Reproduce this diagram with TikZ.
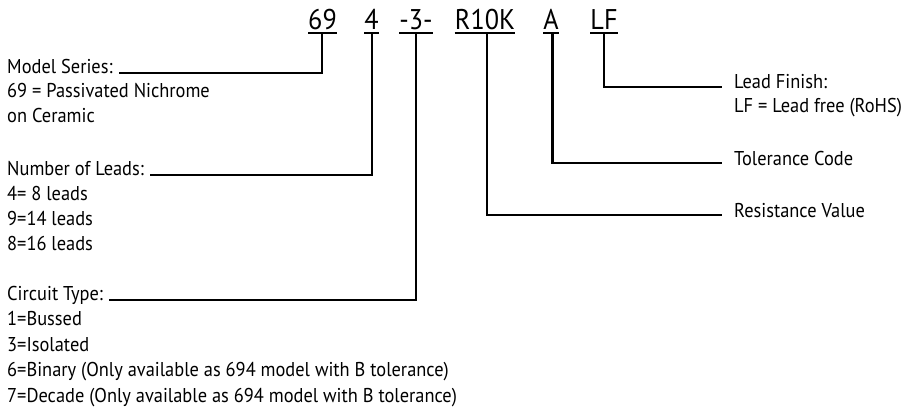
\documentclass[tikz,border=0pt]{standalone}
\usepackage{fontspec}
\setmainfont{PT Sans}[FakeStretch=0.92]
\begin{document}
\begin{tikzpicture}[x=1pt,y=-1pt,
  code/.style={inner sep=0pt,anchor=base,font=\fontsize{28.5}{30}\selectfont},
  lbl/.style={inner sep=0pt,anchor=base west,font=\fontsize{20}{22}\selectfont},
  ul/.style={line width=2.2pt},
  conn/.style={line width=2.4pt,line join=miter,line cap=butt}]
\useasboundingbox (0,0) rectangle (903,413);
% part number codes
\node[code] (c69) at (322.5,29.5) {69};
\node[code] (c4) at (371.5,29.5) {4};
\node[code] (c3) at (416,29.5) {-3-};
\node[code] (cR) at (485,29.5) {R10K};
\node[code] (cA) at (551,29.5) {A};
\node[code] (cLF) at (604,29.5) {LF};
\foreach \n in {c69,c4,c3,cR,cA,cLF}{
  \draw[ul] ([yshift=-3.8pt]\n.base west) -- ([yshift=-3.8pt]\n.base east);
}
\coordinate (s69) at (322,33.3);
\coordinate (s4) at (372,33.3);
\coordinate (s3) at (416,33.3);
\coordinate (sR) at (487,33.3);
\coordinate (sA) at (552.5,33.3);
\coordinate (sLF) at (604,33.3);
% left labels
\node[lbl] (ms) at (7,73) {Model Series:};
\node[lbl] (ms1) at (7,97.5) {69 = Passivated Nichrome};
\node[lbl] (ms2) at (7,122) {on Ceramic};
\node[lbl] (nl) at (7,175) {Number of Leads:};
\node[lbl] (nl1) at (7,200.5) {4= 8 leads};
\node[lbl] (nl2) at (7,225.5) {9=14 leads};
\node[lbl] (nl3) at (7,250.5) {8=16 leads};
\node[lbl] (ct) at (7,300) {Circuit Type:};
\node[lbl] (ct1) at (7,325.7) {1=Bussed};
\node[lbl] (ct2) at (7,351.2) {3=Isolated};
\node[lbl] (ct3) at (7,376.7) {6=Binary (Only available as 694 model with B tolerance)};
\node[lbl] (ct4) at (7,402) {7=Decade (Only available as 694 model with B tolerance)};
% right labels
\node[lbl] (lf) at (734,88.5) {Lead Finish:};
\node[lbl] (lf1) at (734,112) {LF = Lead free (RoHS)};
\node[lbl] (tc) at (734,165.7) {Tolerance Code};
\node[lbl] (rv) at (734,217.5) {Resistance Value};
% connectors
\draw[conn] (s69) |- ([xshift=6pt]ms.base east);
\draw[conn] (s4) |- ([xshift=6pt]nl.base east);
\draw[conn] (s3) |- ([xshift=6pt]ct.base east);
\draw[conn] (sR) |- ([xshift=-12.5pt]rv.mid west);
\draw[conn] (sA) |- ([xshift=-12.5pt]tc.mid west);
\draw[conn] (sLF) |- ([xshift=-12.5pt,yshift=-1pt]lf.mid west);
\end{tikzpicture}
\end{document}
